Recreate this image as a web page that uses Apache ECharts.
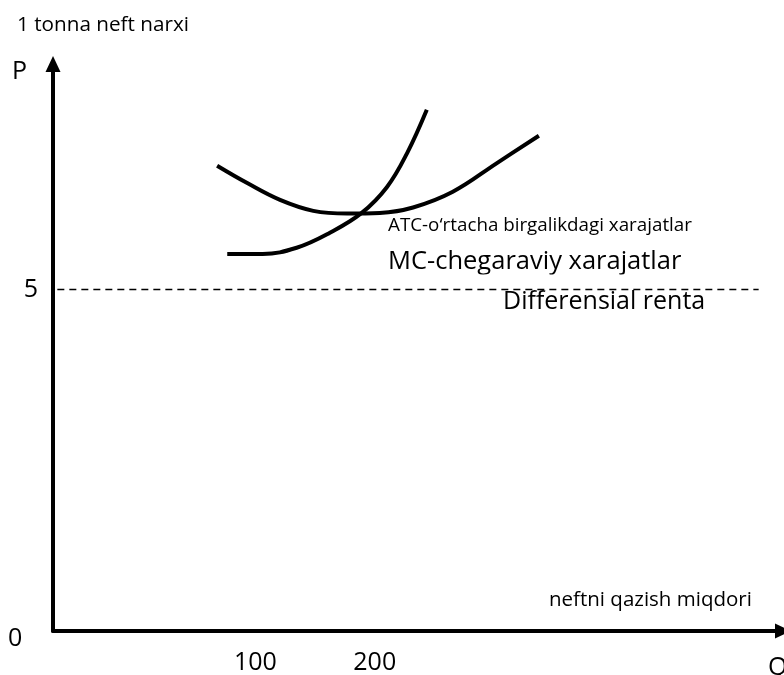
<!DOCTYPE html>
<html>
<head>
<meta charset="utf-8">
<title>Differensial renta</title>
<script src="https://cdn.jsdelivr.net/npm/echarts@6/dist/echarts.min.js"></script>
<style>
  html, body { margin: 0; padding: 0; background: #fff; }
  #chart { width: 784px; height: 675px; }
</style>
</head>
<body>
<div id="chart"></div>
<script>
// axis units: Q runs 0..100 across the drawing, P is price (5 = dashed level)
const atcQ = [22.7, 26.8, 31.4, 36.0, 40.7, 45.2, 49.8, 55.3, 61.4, 67.2];
const atcP = [6.81, 6.56, 6.31, 6.15, 6.11, 6.12, 6.20, 6.43, 6.85, 7.25];
const mcQ = [24.1, 29.0, 33.7, 38.3, 42.7, 46.2, 49.0, 51.7];
const mcP = [5.52, 5.52, 5.61, 5.83, 6.12, 6.50, 7.00, 7.63];
const rentQ = [0.6, 97.6];
const rentP = [5, 5];
const qTickPos = [28, 44.5];
const qTickText = ['100', '200'];
const pTickPos = [5];

const font = "'Open Sans', 'Noto Sans', sans-serif";
const zip = (a, b) => a.map((v, i) => [v, b[i]]);

const chart = echarts.init(document.getElementById('chart'));

const arrowLine = (offset) => ({
  show: true,
  symbol: ['none', 'triangle'],
  symbolSize: [15, 16],
  symbolOffset: [0, offset],
  lineStyle: { color: '#000', width: 4 }
});

chart.setOption({
  animation: false,
  backgroundColor: '#fff',
  grid: { left: 53, right: 8, top: 64, bottom: 43 },
  xAxis: {
    type: 'value',
    min: 0,
    max: 100,
    splitLine: { show: false },
    axisTick: { show: false },
    axisLine: arrowLine(7),
    axisLabel: {
      customValues: qTickPos,
      formatter: v => qTickText[qTickPos.indexOf(v)],
      color: '#000',
      fontSize: 25,
      fontFamily: font,
      margin: 19
    }
  },
  yAxis: {
    type: 'value',
    min: 0,
    max: 8.3,
    splitLine: { show: false },
    axisTick: { show: false },
    axisLine: arrowLine(0),
    axisLabel: {
      customValues: pTickPos,
      color: '#000',
      fontSize: 25,
      fontFamily: font,
      margin: 15
    }
  },
  series: [
    {
      name: 'Differensial renta',
      type: 'line',
      data: zip(rentQ, rentP),
      symbol: 'none',
      lineStyle: { color: '#000', width: 1.5, type: [7, 5] }
    },
    {
      name: 'ATC',
      type: 'line',
      smooth: 0.4,
      data: zip(atcQ, atcP),
      symbol: 'none',
      lineStyle: { color: '#000', width: 4 }
    },
    {
      name: 'MC',
      type: 'line',
      smooth: 0.4,
      data: zip(mcQ, mcP),
      symbol: 'none',
      lineStyle: { color: '#000', width: 4 }
    }
  ],
  graphic: [
    { type: 'text', x: 17, y: 25, style: { text: '1 tonna neft narxi', font: '20.7px ' + font, fill: '#000', verticalAlign: 'middle' } },
    { type: 'text', x: 12, y: 72, style: { text: 'P', font: '25px ' + font, fill: '#000', verticalAlign: 'middle' } },
    { type: 'text', x: 8, y: 639, style: { text: '0', font: '25px ' + font, fill: '#000', verticalAlign: 'middle' } },
    { type: 'text', x: 768, y: 668, style: { text: 'Q', font: '25px ' + font, fill: '#000', verticalAlign: 'middle' } },
    { type: 'text', x: 549, y: 600, style: { text: 'neftni qazish miqdori', font: '20.5px ' + font, fill: '#000', verticalAlign: 'middle' } },
    { type: 'text', x: 388, y: 226, style: { text: 'ATC-o\u2018rtacha birgalikdagi xarajatlar', font: '18.8px ' + font, fill: '#000', verticalAlign: 'middle' } },
    { type: 'text', x: 388, y: 262, style: { text: 'MC-chegaraviy xarajatlar', font: '25.5px ' + font, fill: '#000', verticalAlign: 'middle' } },
    // text box in the source clips the descenders of the MC caption
    { type: 'rect', shape: { x: 385, y: 274.5, width: 320, height: 12.5 }, style: { fill: '#fff' }, z: 200 },
    { type: 'text', x: 503, y: 302, style: { text: 'Differensial renta', font: '25px ' + font, fill: '#000', verticalAlign: 'middle' } }
  ]
});
</script>
</body>
</html>
